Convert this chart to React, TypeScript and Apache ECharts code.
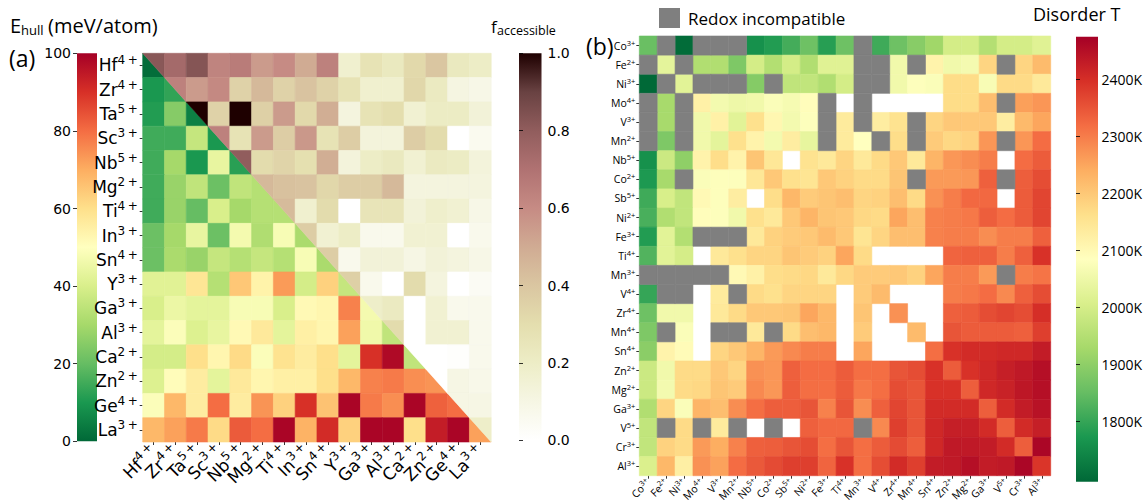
import React, { useEffect, useRef } from "react";
import * as echarts from "echarts";

// ---------- panel (a): E_hull (lower triangle) and f_accessible (upper triangle) ----------
const IONS_A = ["Hf4+", "Zr4+", "Ta5+", "Sc3+", "Nb5+", "Mg2+", "Ti4+", "In3+", "Sn4+", "Y3+", "Ga3+", "Al3+", "Ca2+", "Zn2+", "Ge4+", "La3+"];

// row i holds columns 0..i (the diagonal cell is the last entry), meV/atom
const EHULL_LOWER: number[][] = [
  [1],
  [10, 13],
  [11, 25, 5],
  [15, 15, 36, 10],
  [15, 30, 10, 44, 12],
  [15, 28, 35, 21, 35, 33],
  [15, 28, 20, 40, 30, 33, 33],
  [21, 30, 44, 21, 47, 32, 48, 31],
  [21, 31, 28, 36, 33, 36, 33, 48, 31],
  [42, 42, 58, 33, 65, 54, 73, 39, 63, 36],
  [40, 45, 43, 43, 48, 48, 40, 52, 53, 77, 47],
  [43, 49, 41, 44, 52, 57, 43, 55, 53, 72, 46, 35],
  [39, 39, 60, 53, 61, 49, 59, 56, 60, 43, 90, 98, 35],
  [41, 51, 56, 43, 57, 53, 55, 55, 60, 68, 77, 78, 75, 74],
  [49, 68, 56, 80, 56, 74, 63, 90, 66, 99, 78, 75, 99, 82, 80],
  [68, 72, 78, 61, 83, 80, 99, 69, 91, 63, 99, 99, 60, 94, 99, 72],
];

// row i holds columns i..15 (the diagonal cell is the first entry)
const F_UPPER: number[][] = [
  [0.82, 0.74, 0.83, 0.63, 0.66, 0.55, 0.6, 0.5, 0.64, 0.17, 0.27, 0.23, 0.32, 0.4, 0.23, 0.2],
  [0.64, 0.55, 0.61, 0.35, 0.45, 0.35, 0.41, 0.35, 0.27, 0.17, 0.17, 0.33, 0.22, 0.11, 0.09],
  [1.0, 0.35, 1.0, 0.36, 0.55, 0.32, 0.49, 0.12, 0.27, 0.3, 0.16, 0.21, 0.21, 0.14],
  [0.64, 0.27, 0.55, 0.37, 0.56, 0.27, 0.37, 0.13, 0.13, 0.37, 0.31, 0, 0.06],
  [0.8, 0.31, 0.34, 0.29, 0.49, 0.13, 0.2, 0.23, 0.16, 0.22, 0.21, 0.13],
  [0.45, 0.42, 0.41, 0.33, 0.37, 0.37, 0.45, 0.12, 0.12, 0.12, 0.12],
  [0.44, 0.17, 0.31, 0, 0.26, 0.26, 0.14, 0.18, 0.16, 0.09],
  [0.37, 0.16, 0.2, 0.07, 0.07, 0.16, 0.16, 0, 0.07],
  [0.37, 0.07, 0.14, 0.14, 0.1, 0.14, 0.12, 0.09],
  [0.36, 0.07, 0, 0.31, 0.12, 0, 0.04],
  [0.19, 0.22, 0, 0.16, 0.07, 0.07],
  [0.31, 0, 0.16, 0.16, 0.07],
  [0, 0, 0.01, 0.07],
  [0, 0.1, 0.08],
  [0.1, 0.1],
  [0.19],
];

const EHULL_TICKS = { min: 0, max: 100, step: 20 };
const F_TICKS = { min: 0, max: 1, step: 0.2 };

// ---------- panel (b): disorder temperature ----------
const IONS_B = ["Co3+", "Fe2+", "Ni3+", "Mo4+", "V3+", "Mn2+", "Nb5+", "Co2+", "Sb5+", "Ni2+", "Fe3+", "Ti4+", "Mn3+", "V4+", "Zr4+", "Mn4+", "Sn4+", "Zn2+", "Mg2+", "Ga3+", "V5+", "Cr3+", "Al3+"];

const X = -1; // redox incompatible pair
const DISORDER_T: (number | null)[][] = [
  [1855, X, 1700, X, X, X, 1760, 1780, 1815, 1860, 1785, 1860, X, 1810, 1860, 1892, 1922, 1998, 1998, 1950, 1998, 1998, 2020],
  [X, 2030, X, 1945, 1945, 1880, 1998, 1948, 1998, 1945, 2020, 2020, X, X, 2055, X, 2115, 2055, 2062, 2180, X, 2180, 2220],
  [1695, X, 2025, X, X, X, 1888, X, 1968, 1970, 1945, 1998, X, X, 2055, 2080, 2075, 2168, 2168, 2070, 2170, 2170, 2140],
  [X, 1932, X, 2120, 2060, 2050, 2055, 2075, 2065, 2090, X, null, X, null, null, null, null, 2168, 2168, 2215, X, 2258, 2270],
  [X, 1932, X, 2055, 2120, 2025, 2160, 2105, 2060, 2080, X, 2135, X, 2130, 2155, X, 2180, 2200, 2200, 2200, 2130, 2222, 2250],
  [X, 1880, X, 2055, 2030, 2160, 2115, 2060, 2130, 2035, X, 2135, 2085, X, 2165, X, 2195, 2175, 2185, 2270, X, 2270, 2320],
  [1760, 1985, 1900, 2115, 2165, 2115, 2205, 2145, null, 2155, 2140, 2180, 2140, 2170, 2200, 2140, 2230, 2268, 2280, 2300, null, 2320, 2340],
  [1775, 1932, X, 2075, 2080, 2080, 2145, 2200, 2160, 2150, 2200, 2185, 2170, 2170, 2205, X, 2265, 2265, 2268, 2335, X, 2338, 2360],
  [1810, 2005, 1970, 2100, 2080, 2130, null, 2165, 2225, 2195, 2205, 2215, 2180, 2185, 2215, 2170, 2275, 2300, 2325, 2325, null, 2340, 2370],
  [1820, 1945, 1970, 2090, 2080, 2055, 2160, 2140, 2200, 2230, 2205, 2200, 2175, 2170, 2250, 2215, 2295, 2300, 2305, 2338, 2320, 2340, 2370],
  [1780, 2025, 1948, X, X, X, 2140, 2185, 2195, 2200, 2220, 2200, 2150, 2180, 2215, 2215, 2295, 2300, 2300, 2280, 2300, 2300, 2335],
  [1830, 2025, 2000, null, 2140, 2160, 2180, 2180, 2205, 2195, 2185, 2250, 2170, null, null, null, null, 2330, 2335, 2335, 2300, 2335, 2395],
  [X, X, X, X, X, 2100, 2120, 2165, 2170, 2175, 2140, 2175, 2195, 2195, 2200, 2185, 2250, 2300, 2300, 2265, X, 2300, 2310],
  [1800, X, X, null, 2135, X, 2170, 2160, 2180, 2180, 2180, null, 2195, 2220, null, null, null, 2300, 2305, 2320, 2285, 2335, 2360],
  [1860, 2055, 2055, null, 2140, 2170, 2200, 2200, 2205, 2250, 2225, null, 2205, null, 2275, null, null, 2335, 2340, 2360, 2370, 2360, 2400],
  [1880, X, 2075, null, X, X, 2140, X, 2170, 2215, 2225, null, 2195, null, null, 2220, null, 2350, 2340, 2340, 2340, 2335, 2378],
  [1895, 2115, 2095, null, 2180, 2200, 2230, 2265, 2285, 2300, 2300, null, 2250, null, null, null, 2318, 2395, 2405, 2405, 2410, 2410, 2430],
  [1985, 2055, 2170, 2170, 2200, 2180, 2275, 2270, 2335, 2320, 2320, 2340, 2318, 2318, 2350, 2360, 2395, 2340, 2395, 2410, 2425, 2435, 2450],
  [1985, 2060, 2170, 2175, 2205, 2195, 2285, 2268, 2338, 2318, 2318, 2340, 2305, 2318, 2360, 2350, 2395, 2395, 2338, 2410, 2420, 2438, 2450],
  [1945, 2180, 2075, 2230, 2215, 2280, 2318, 2338, 2338, 2350, 2295, 2350, 2280, 2335, 2370, 2350, 2405, 2405, 2405, 2338, 2405, 2430, 2445],
  [1970, X, 2170, X, 2135, X, null, X, null, 2335, 2325, 2325, X, 2285, 2378, 2350, 2410, 2425, 2425, 2405, 2338, 2405, 2425],
  [1970, 2185, 2170, 2265, 2240, 2295, 2335, 2338, 2350, 2360, 2318, 2350, 2318, 2340, 2362, 2338, 2410, 2435, 2435, 2430, 2405, 2338, 2465],
  [2010, 2225, 2125, 2275, 2255, 2320, 2345, 2362, 2378, 2378, 2330, 2395, 2318, 2360, 2405, 2378, 2430, 2435, 2450, 2430, 2435, 2465, 2390],
];

const T_TICKS = [1800, 1900, 2000, 2100, 2200, 2300, 2400];
const T_MIN = 1694;
const T_MAX = 2475;

// ---------- colour maps ----------
const RDYLGN_R = ["#006837", "#1a9850", "#66bd63", "#a6d96a", "#d9ef8b", "#ffffbf", "#fee08b", "#fdae61", "#f46d43", "#d73027", "#a50026"];
const PINK_R = ["#ffffff", "#f6f6e4", "#ededc6", "#e4deae", "#dac6a1", "#d0ab93", "#c68b84", "#b07272", "#915d5d", "#694242", "#1e0000"];
const GREY = "#7f7f7f";

const FONT_A = "DejaVu Sans";
const FONT_B = "Open Sans";

function splitIon(ion: string): [string, string] {
  const m = ion.match(/^([A-Za-z]+)(\d)\+$/);
  return m ? [m[1], m[2]] : [ion, ""];
}

function gradient(colors: string[]) {
  return new echarts.graphic.LinearGradient(
    0, 1, 0, 0,
    colors.map((c, i) => ({ offset: i / (colors.length - 1), color: c }))
  );
}

// One heat-map cell: full rectangle, or a half cell split along the matrix diagonal.
// part 1 = lower-left triangle, part 2 = upper-right triangle.
function cellRenderer(fixedFill?: string) {
  return (_params: any, api: any) => {
    const c = api.value(0);
    const r = api.value(1);
    const part = api.value(3);
    const center = api.coord([c, r]);
    const size = api.size([1, 1]);
    const x0 = center[0] - size[0] / 2;
    const y0 = center[1] - size[1] / 2;
    const x1 = x0 + size[0];
    const y1 = y0 + size[1];
    const fill = fixedFill || api.visual("color");
    const style = { fill, stroke: fill, lineWidth: 0.6 };
    if (part === 1) {
      return { type: "polygon", shape: { points: [[x0, y0], [x0, y1], [x1, y1]] }, style };
    }
    if (part === 2) {
      return { type: "polygon", shape: { points: [[x0, y0], [x1, y0], [x1, y1]] }, style };
    }
    return { type: "rect", shape: { x: x0, y: y0, width: size[0], height: size[1] }, style };
  };
}

function buildOption() {
  const eData: number[][] = [];
  EHULL_LOWER.forEach((row, r) => row.forEach((v, c) => eData.push([c, r, v, c === r ? 1 : 0])));
  const fData: number[][] = [];
  F_UPPER.forEach((row, r) => row.forEach((v, k) => fData.push([r + k, r, v, k === 0 ? 2 : 0])));
  const tData: number[][] = [];
  const greyData: number[][] = [];
  DISORDER_T.forEach((row, r) =>
    row.forEach((v, c) => {
      if (v === null) return;
      if (v === X) greyData.push([c, r, 0, 0]);
      else tData.push([c, r, v, 0]);
    })
  );

  const richA = {
    el: { fontSize: 17, fontFamily: FONT_A, color: "#000", lineHeight: 22 },
    ch: { fontSize: 12, fontFamily: FONT_A, color: "#000", lineHeight: 13, verticalAlign: "top" },
  };
  const richB = {
    el: { fontSize: 10.5, fontFamily: FONT_B, color: "#000", lineHeight: 14 },
    ch: { fontSize: 7.5, fontFamily: FONT_B, color: "#000", lineHeight: 9, verticalAlign: "top" },
  };
  const fmtA = (v: string) => {
    const [el, n] = splitIon(v);
    return `{el|${el}}{ch|${n}\u2009+}`;
  };
  const fmtB = (v: string) => {
    const [el, n] = splitIon(v);
    return `{el|${el}}{ch|${n}+}`;
  };

  const catAxis = (gridIndex: number, data: string[], rich: any, fmt: any, extra: any) => ({
    gridIndex,
    type: "category",
    data,
    axisLine: { show: false },
    axisTick: { show: true, alignWithLabel: true, length: 3, lineStyle: { color: "#000", width: 0.8 } },
    splitLine: { show: false },
    axisLabel: { interval: 0, formatter: fmt, rich, color: "#000" },
    ...extra,
  });

  const barAxis = (gridIndex: number, extra: any) => ({
    gridIndex,
    type: "value",
    axisLine: { show: false },
    splitLine: { show: false },
    axisTick: { show: true, length: 4, lineStyle: { color: "#000", width: 0.8 } },
    ...extra,
  });

  const hiddenX = (gridIndex: number) => ({ gridIndex, type: "value", show: false, min: 0, max: 1 });

  const text = (x: number, y: number, str: string, size: number, family: string) => ({
    type: "text",
    x,
    y,
    style: {
      text: str,
      font: `${size}px "${family}"`,
      fill: "#000",
      align: "left",
      verticalAlign: "middle",
      textAlign: "left",
      textVerticalAlign: "middle",
    },
  });

  return {
    animation: false,
    backgroundColor: "#fff",
    grid: [
      { left: 142.7, top: 53.3, width: 348.5, height: 388.7 },
      { left: 77, top: 53.3, width: 20, height: 388 },
      { left: 519, top: 53.3, width: 22.5, height: 387 },
      { left: 639.3, top: 36, width: 411.4, height: 445.7 },
      { left: 1076, top: 36.7, width: 22, height: 445 },
    ],
    xAxis: [
      catAxis(0, IONS_A, richA, fmtA, { position: "bottom", axisLabel: { interval: 0, formatter: fmtA, rich: richA, rotate: 45, margin: 6 } }),
      hiddenX(1),
      hiddenX(2),
      catAxis(3, IONS_B, richB, fmtB, { position: "bottom", axisLabel: { interval: 0, formatter: fmtB, rich: richB, rotate: 45, margin: 5 } }),
      hiddenX(4),
    ],
    yAxis: [
      catAxis(0, IONS_A, richA, fmtA, { inverse: true, axisLabel: { interval: 0, formatter: fmtA, rich: richA, margin: 5 } }),
      barAxis(1, {
        position: "left",
        min: EHULL_TICKS.min,
        max: EHULL_TICKS.max,
        interval: EHULL_TICKS.step,
        axisLabel: { fontSize: 14, fontFamily: FONT_A, color: "#000", margin: 6 },
      }),
      barAxis(2, {
        position: "right",
        min: F_TICKS.min,
        max: F_TICKS.max,
        interval: F_TICKS.step,
        axisLabel: { fontSize: 14, fontFamily: FONT_A, color: "#000", margin: 6, formatter: (v: number) => v.toFixed(1) },
      }),
      catAxis(3, IONS_B, richB, fmtB, { inverse: true, axisLabel: { interval: 0, formatter: fmtB, rich: richB, margin: 4 } }),
      barAxis(4, {
        position: "right",
        min: T_MIN,
        max: T_MAX,
        axisTick: { show: true, length: 4, customValues: T_TICKS, lineStyle: { color: "#000", width: 0.8 } },
        axisLabel: { fontSize: 14, fontFamily: FONT_B, color: "#000", margin: 6, customValues: T_TICKS, formatter: (v: number) => `${v}K` },
      }),
    ],
    visualMap: [
      { type: "continuous", show: false, seriesIndex: 0, dimension: 2, min: 0, max: 100, inRange: { color: RDYLGN_R } },
      { type: "continuous", show: false, seriesIndex: 1, dimension: 2, min: 0, max: 1, inRange: { color: PINK_R } },
      { type: "continuous", show: false, seriesIndex: 2, dimension: 2, min: T_MIN, max: T_MAX, inRange: { color: RDYLGN_R } },
    ],
    series: [
      { type: "custom", name: "E_hull", xAxisIndex: 0, yAxisIndex: 0, encode: { x: 0, y: 1 }, data: eData, renderItem: cellRenderer() },
      { type: "custom", name: "f_accessible", xAxisIndex: 0, yAxisIndex: 0, encode: { x: 0, y: 1 }, data: fData, renderItem: cellRenderer() },
      { type: "custom", name: "Disorder T", xAxisIndex: 3, yAxisIndex: 3, encode: { x: 0, y: 1 }, data: tData, renderItem: cellRenderer() },
      { type: "custom", name: "Redox incompatible", xAxisIndex: 3, yAxisIndex: 3, encode: { x: 0, y: 1 }, data: greyData, renderItem: cellRenderer(GREY) },
      { type: "line", xAxisIndex: 1, yAxisIndex: 1, data: [] },
      { type: "line", xAxisIndex: 2, yAxisIndex: 2, data: [] },
      { type: "line", xAxisIndex: 4, yAxisIndex: 4, data: [] },
    ],
    graphic: [
      // colour bars
      { type: "rect", shape: { x: 77, y: 53.3, width: 20, height: 388 }, style: { fill: gradient(RDYLGN_R) } },
      { type: "rect", shape: { x: 519, y: 53.3, width: 22.5, height: 387 }, style: { fill: gradient(PINK_R) } },
      { type: "rect", shape: { x: 1076, y: 36.7, width: 22, height: 445 }, style: { fill: gradient(RDYLGN_R) } },
      // titles and panel letters
      text(10, 25, "E", 20, FONT_B),
      text(21, 29.5, "hull", 13, FONT_B),
      text(48, 25, "(meV/atom)", 20, FONT_B),
      text(9, 58, "(a)", 23, FONT_B),
      text(491, 26, "f", 17, FONT_B),
      text(497, 30, "accessible", 12.5, FONT_B),
      text(586, 46, "(b)", 23, FONT_B),
      { type: "rect", shape: { x: 659, y: 8, width: 21, height: 20 }, style: { fill: GREY } },
      text(688, 18, "Redox incompatible", 17, FONT_B),
      text(1033, 14, "Disorder T", 18, FONT_B),
    ],
  };
}

export default function App() {
  const ref = useRef<HTMLDivElement>(null);
  useEffect(() => {
    if (!ref.current) return;
    const chart = echarts.init(ref.current, undefined, { renderer: "svg" });
    chart.setOption(buildOption() as any);
    return () => chart.dispose();
  }, []);
  return <div ref={ref} style={{ position: "absolute", left: 0, top: 0, width: 1145, height: 504, background: "#fff" }} />;
}
